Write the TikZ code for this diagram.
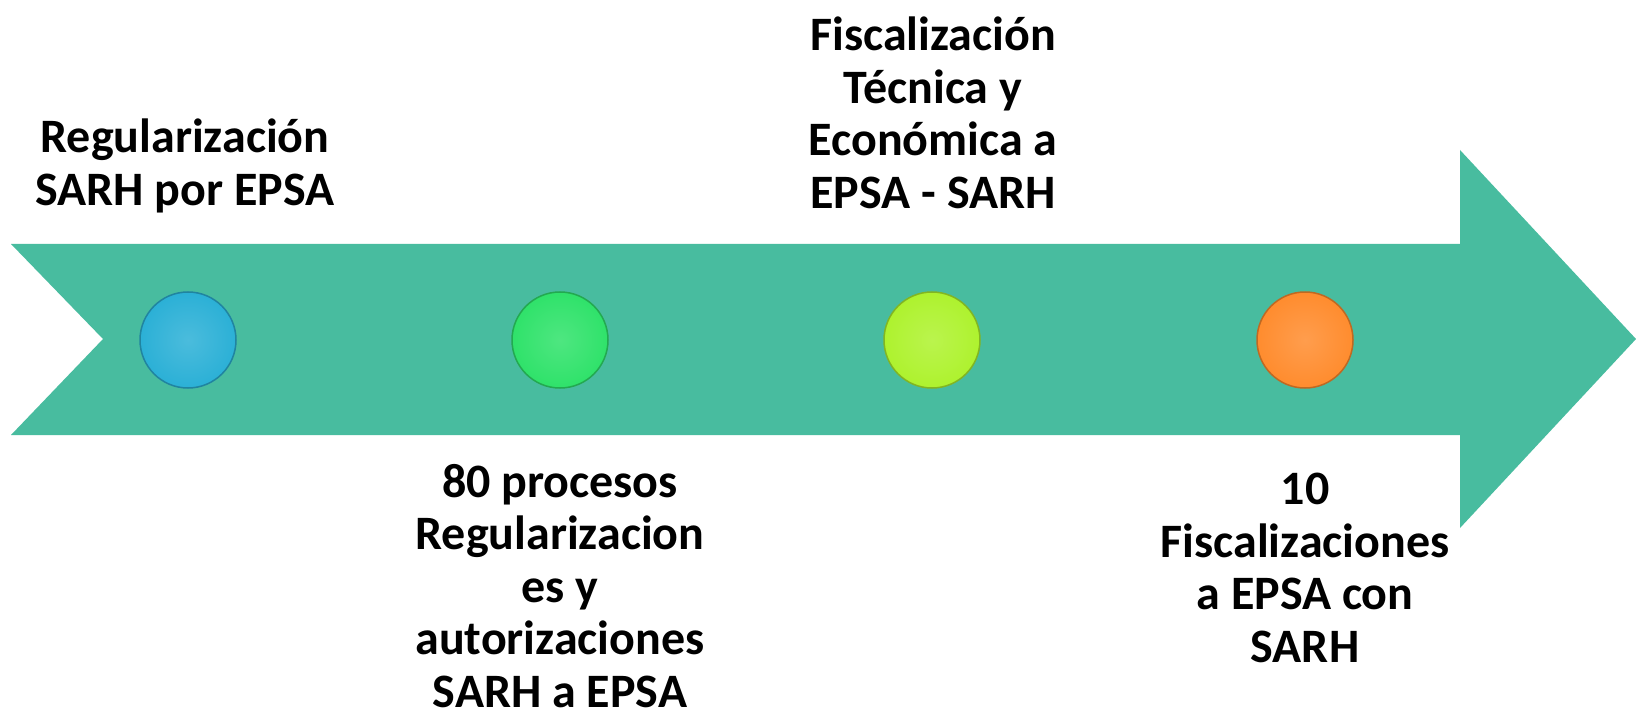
\documentclass[tikz,border=0pt]{standalone}
\usepackage{fontspec}
\setmainfont{Carlito}
\definecolor{arrowteal}{HTML}{48BC9F}
\definecolor{dotblue}{HTML}{2BB0D6}
\definecolor{dotgreen}{HTML}{2FE26A}
\definecolor{dotlime}{HTML}{AEF22E}
\definecolor{dotorange}{HTML}{FF8C2E}
\tikzset{
  dot/.style={circle, minimum size=96pt, inner sep=0pt, draw=#1!75!black, line width=1.5pt,
    shading=radial, inner color=#1!85!white, outer color=#1},
  label/.style={font=\bfseries\fontsize{48}{52.5}\selectfont, align=center, text=black, inner sep=0pt}
}
\begin{document}
\begin{tikzpicture}[x=1pt,y=-1pt]
\useasboundingbox (0,0) rectangle (1636,714);
\fill[white] (0,0) rectangle (1636,714);
% arrow
\fill[arrowteal] (11,244) -- (1460,244) -- (1460,150) -- (1636,339) -- (1460,528) -- (1460,435) -- (11,435) -- (103,339) -- cycle;
% dots
\node[dot=dotblue] (d1) at (188,340) {};
\node[dot=dotgreen] (d2) at (560,340) {};
\node[dot=dotlime] (d3) at (932,340) {};
\node[dot=dotorange] (d4) at (1305,340) {};
% labels
\node[label] (t1) at (185,166) {Regularización\\SARH por EPSA};
\node[label] (t2) at (933,113) {Fiscalización\\Técnica y\\Económica a\\EPSA - SARH};
\node[label] (t3) at (560,586) {80 procesos\\Regularizacion\\es y\\autorizaciones\\SARH a EPSA};
\node[label] (t4) at (1305,568) {10\\Fiscalizaciones\\a EPSA con\\SARH};
\end{tikzpicture}
\end{document}
